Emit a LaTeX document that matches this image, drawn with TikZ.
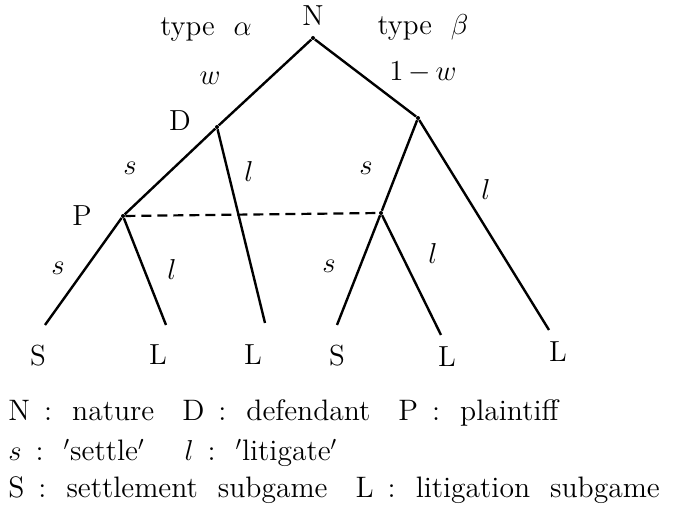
\documentclass[tikz,border=0pt]{standalone}
\usepackage{tikz}

\newcommand{\kcolon}{\hspace{7pt}:\hspace{10pt}}
\newcommand{\kgap}{\hspace{14pt}}

\tikzset{
  branch/.style={line width=1.2pt},
  infoset/.style={line width=1.1pt,dashed,dash pattern=on 5pt off 3pt},
  lbl/.style={font=\fontsize{14.5}{17}\selectfont,inner sep=0pt},
  legend/.style={font=\fontsize{14.8}{17}\selectfont,inner sep=0pt,anchor=west},
  vdot/.style={circle,fill,inner sep=0pt,minimum size=2pt}
}

\begin{document}
\begin{tikzpicture}[x=0.5pt,y=-0.5pt]
  \useasboundingbox (0,0) rectangle (676,522);

  % decision nodes
  \node[vdot] (N) at (313,38) {};
  \node[vdot] (D) at (217,127) {};
  \node[vdot] (Db) at (418,118) {};
  \node[vdot] (P) at (123,216) {};
  \node[vdot] (Pb) at (381,213) {};

  % terminal points
  \coordinate (S1) at (45,325);
  \coordinate (L1) at (166,325);
  \coordinate (L2) at (265,323);
  \coordinate (S2) at (337,325);
  \coordinate (L3) at (441,335);
  \coordinate (L4) at (549,330);

  \draw[branch] (N) -- (D);
  \draw[branch] (N) -- (Db);
  \draw[branch] (D) -- (P);
  \draw[branch] (D) -- (L2);
  \draw[branch] (Db) -- (Pb);
  \draw[branch] (Db) -- (L4);
  \draw[branch] (P) -- (S1);
  \draw[branch] (P) -- (L1);
  \draw[branch] (Pb) -- (S2);
  \draw[branch] (Pb) -- (L3);
  \draw[infoset] (P) -- (Pb);

  % player and move labels
  \node[lbl] (lN) at (313,16) {N};
  \node[lbl] (lta) at (206,30) {type\ \ $\alpha$};
  \node[lbl] (ltb) at (423,27) {type\ \ $\beta$};
  \node[lbl] (lw) at (210,78) {$w$};
  \node[lbl] (l1w) at (423,72) {1\,$-$\,$w$};
  \node[lbl] (lD) at (180,121) {D};
  \node[lbl] (lP) at (82,216) {P};
  \node[lbl] (ms1) at (130,168) {$s$};
  \node[lbl] (ml1) at (249,172) {$l$};
  \node[lbl] (ms2) at (366,168) {$s$};
  \node[lbl] (ml2) at (486,190) {$l$};
  \node[lbl] (ms3) at (58,268) {$s$};
  \node[lbl] (ml3) at (172,270) {$l$};
  \node[lbl] (ms4) at (329,266) {$s$};
  \node[lbl] (ml4) at (433,254) {$l$};

  % subgames
  \node[lbl] (tS1) at (38,356) {S};
  \node[lbl] (tL1) at (158,355) {L};
  \node[lbl] (tL2) at (253,355) {L};
  \node[lbl] (tS2) at (337,356) {S};
  \node[lbl] (tL3) at (447,357) {L};
  \node[lbl] (tL4) at (558,352) {L};

  % legend
  \node[legend] (key1) at (8,413) {N\kcolon nature\kgap D\kcolon defendant\kgap P\kcolon plaintiff};
  \node[legend] (key2) at (8,453) {$s$\kcolon$'$settle$'$\hspace{20pt}$l$\kcolon$'$litigate$'$};
  \node[legend] (key3) at (8,490) {S\kcolon settlement\hspace{10pt}subgame\kgap L\kcolon litigation\hspace{10pt}subgame};
\end{tikzpicture}
\end{document}
